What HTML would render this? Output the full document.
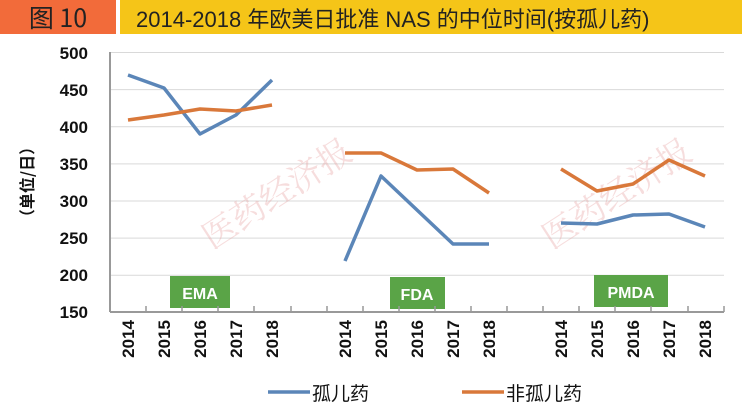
<!DOCTYPE html>
<html><head><meta charset="utf-8"><style>
body{margin:0;width:742px;height:409px;background:#fff;overflow:hidden;font-family:"Liberation Sans","Noto Sans CJK SC",sans-serif}
</style></head><body>
<svg width="742" height="409" xmlns="http://www.w3.org/2000/svg" style="position:absolute;left:0;top:0">
<rect x="0" y="0" width="116" height="34" fill="#f26b3a"/>
<rect x="120" y="0" width="622" height="34" fill="#f5c518"/>
<text x="58" y="27" text-anchor="middle" font-size="25" fill="#222" font-family="'Noto Sans CJK SC',sans-serif">图 10</text>
<text x="136" y="27" font-size="22" fill="#222" font-family="'Liberation Sans','Noto Sans CJK SC',sans-serif">2014-2018 年欧美日批准 NAS 的中位时间(按孤儿药)</text>
<g stroke="#d9d9d9" stroke-width="1">
<line x1="110" y1="52.5" x2="724" y2="52.5"/><line x1="110" y1="89.6" x2="724" y2="89.6"/>
<line x1="110" y1="126.7" x2="724" y2="126.7"/><line x1="110" y1="163.9" x2="724" y2="163.9"/>
<line x1="110" y1="201" x2="724" y2="201"/><line x1="110" y1="238.1" x2="724" y2="238.1"/>
<line x1="110" y1="275.3" x2="724" y2="275.3"/>
</g>
<g font-size="17" font-weight="bold" fill="#111" text-anchor="end">
<text x="88" y="59">500</text><text x="88" y="96">450</text><text x="88" y="133">400</text>
<text x="88" y="170">350</text><text x="88" y="207">300</text><text x="88" y="244">250</text>
<text x="88" y="281">200</text><text x="88" y="318">150</text>
</g>
<text transform="translate(33,182) rotate(-90)" text-anchor="middle" font-size="16" font-weight="bold" fill="#111" font-family="'Noto Sans CJK SC',sans-serif">（单位/日）</text>
<g font-size="34" fill="#e8a0a0" opacity="0.35" font-family="'Noto Serif CJK SC',serif">
<text transform="translate(212,250) rotate(-33)">医药经济报</text>
<text transform="translate(552,250) rotate(-33)">医药经济报</text></g>
<rect x="170" y="276" width="60" height="32" fill="#5aa447"/><text x="200" y="299" text-anchor="middle" fill="#fff" font-weight="bold" font-size="16">EMA</text>
<rect x="390" y="277" width="55" height="32" fill="#5aa447"/><text x="417" y="300" text-anchor="middle" fill="#fff" font-weight="bold" font-size="16">FDA</text>
<rect x="594" y="275" width="74" height="32" fill="#5aa447"/><text x="631" y="298" text-anchor="middle" fill="#fff" font-weight="bold" font-size="16">PMDA</text>
<line x1="110" y1="52" x2="110" y2="312" stroke="#999" stroke-width="2"/>
<line x1="110" y1="312" x2="724" y2="312" stroke="#999" stroke-width="2"/>
<g stroke="#999" stroke-width="1.5">
<line x1="146" y1="312" x2="146" y2="306"/><line x1="182" y1="312" x2="182" y2="306"/><line x1="218" y1="312" x2="218" y2="306"/><line x1="254" y1="312" x2="254" y2="306"/><line x1="291" y1="312" x2="291" y2="306"/><line x1="327" y1="312" x2="327" y2="306"/><line x1="363" y1="312" x2="363" y2="306"/><line x1="399" y1="312" x2="399" y2="306"/><line x1="435" y1="312" x2="435" y2="306"/><line x1="471" y1="312" x2="471" y2="306"/><line x1="507" y1="312" x2="507" y2="306"/><line x1="543" y1="312" x2="543" y2="306"/><line x1="579" y1="312" x2="579" y2="306"/><line x1="615" y1="312" x2="615" y2="306"/><line x1="651" y1="312" x2="651" y2="306"/><line x1="688" y1="312" x2="688" y2="306"/><line x1="724" y1="312" x2="724" y2="306"/>
</g>
<g fill="none" stroke-width="3.5" stroke-linejoin="round">
<polyline stroke="#5b86b8" points="128,75 164,88 200,134 236,115 272,80"/>
<polyline stroke="#d9783a" points="128,120 164,115 200,109 236,111 272,105"/>
<polyline stroke="#5b86b8" points="345,261 381,176 417,210 453,244 489,244"/>
<polyline stroke="#d9783a" points="345,153 381,153 417,170 453,169 489,193"/>
<polyline stroke="#5b86b8" points="561,223 597,224 633,215 669,214 705,227"/>
<polyline stroke="#d9783a" points="561,169 597,191 633,184 669,160 705,176"/>
</g>
<g font-size="17" font-weight="bold" fill="#111" text-anchor="end">
<g transform="translate(134,320) rotate(-90)"><text>2014</text></g>
<g transform="translate(170,320) rotate(-90)"><text>2015</text></g>
<g transform="translate(206,320) rotate(-90)"><text>2016</text></g>
<g transform="translate(242,320) rotate(-90)"><text>2017</text></g>
<g transform="translate(278,320) rotate(-90)"><text>2018</text></g>
<g transform="translate(351,320) rotate(-90)"><text>2014</text></g>
<g transform="translate(387,320) rotate(-90)"><text>2015</text></g>
<g transform="translate(423,320) rotate(-90)"><text>2016</text></g>
<g transform="translate(459,320) rotate(-90)"><text>2017</text></g>
<g transform="translate(495,320) rotate(-90)"><text>2018</text></g>
<g transform="translate(567,320) rotate(-90)"><text>2014</text></g>
<g transform="translate(603,320) rotate(-90)"><text>2015</text></g>
<g transform="translate(639,320) rotate(-90)"><text>2016</text></g>
<g transform="translate(675,320) rotate(-90)"><text>2017</text></g>
<g transform="translate(711,320) rotate(-90)"><text>2018</text></g>
</g>
<line x1="268" y1="392" x2="310" y2="392" stroke="#5b86b8" stroke-width="3.5"/>
<text x="312" y="400" font-size="19" fill="#111" font-family="'Noto Sans CJK SC',sans-serif">孤儿药</text>
<line x1="462" y1="392" x2="504" y2="392" stroke="#d9783a" stroke-width="3.5"/>
<text x="506" y="400" font-size="19" fill="#111" font-family="'Noto Sans CJK SC',sans-serif">非孤儿药</text>
</svg>
</body></html>
